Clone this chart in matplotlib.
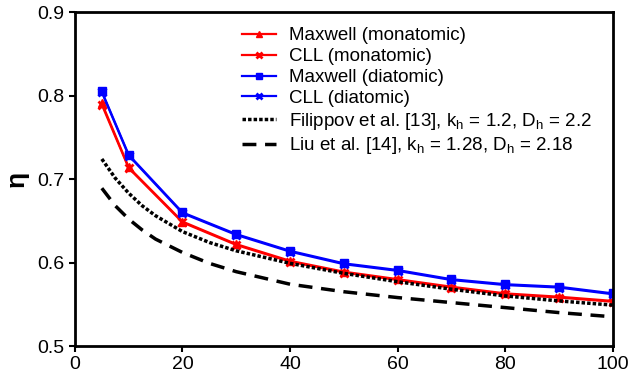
import matplotlib.pyplot as plt
import numpy as np

plt.rcParams['font.family'] = ['Liberation Sans', 'DejaVu Sans']

x = [5, 10, 20, 30, 40, 50, 60, 70, 80, 90, 100]
maxwell_mono = [0.791, 0.714, 0.649, 0.622, 0.602, 0.589, 0.580, 0.571, 0.563, 0.559, 0.554]
cll_mono = [0.789, 0.713, 0.648, 0.621, 0.601, 0.588, 0.579, 0.570, 0.562, 0.558, 0.553]
maxwell_di = [0.805, 0.729, 0.660, 0.634, 0.614, 0.599, 0.591, 0.580, 0.574, 0.571, 0.563]
cll_di = [0.804, 0.728, 0.659, 0.633, 0.613, 0.598, 0.590, 0.579, 0.573, 0.570, 0.562]

x_ref = [5, 7.5, 10, 12.5, 15, 20, 25, 30, 40, 50, 60, 70, 80, 90, 100]
filippov = [0.724, 0.701, 0.683, 0.668, 0.656, 0.637, 0.624, 0.614, 0.599, 0.587, 0.577, 0.568, 0.560, 0.554, 0.549]
liu = [0.689, 0.668, 0.652, 0.639, 0.628, 0.612, 0.599, 0.589, 0.574, 0.565, 0.558, 0.552, 0.546, 0.540, 0.535]

fig = plt.figure(figsize=(6.35, 3.83), dpi=100)
ax = fig.add_axes([0.118, 0.0966, 0.847, 0.872])

ax.plot(x, maxwell_mono, color='red', marker='^', ms=6, lw=1.6, label='Maxwell (monatomic)')
ax.plot(x, cll_mono, color='red', marker='x', ms=6, mew=2, lw=1.6, label='CLL (monatomic)')
ax.plot(x, maxwell_di, color='blue', marker='s', ms=6, lw=1.6, label='Maxwell (diatomic)')
ax.plot(x, cll_di, color='blue', marker='x', ms=6, mew=2, lw=1.6, label='CLL (diatomic)')
ax.plot(x_ref, filippov, color='black', ls=(0, (1, 0.6)), lw=2.5,
        label='Filippov et al. [13], k$_\\mathregular{h}$ = 1.2, D$_\\mathregular{h}$ = 2.2')
ax.plot(x_ref, liu, color='black', ls=(0, (4, 2.5)), lw=2.5,
        label='Liu et al. [14], k$_\\mathregular{h}$ = 1.28, D$_\\mathregular{h}$ = 2.18')

ax.set_xlim(0, 100)
ax.set_ylim(0.5, 0.9)
ax.set_xticks(np.arange(0, 101, 20))
ax.set_yticks([0.5, 0.6, 0.7, 0.8, 0.9])
ax.set_yticklabels(['0.5', '0.6', '0.7', '0.8', '0.9'])
ax.tick_params(labelsize=14, width=1.5, length=4, direction='out')
for s in ax.spines.values():
    s.set_linewidth(2)
ax.set_ylabel('η', fontsize=19, fontweight='bold', labelpad=6)

ax.legend(loc='upper left', bbox_to_anchor=(0.28, 1.005), frameon=False, fontsize=13.5,
          handlelength=1.8, handletextpad=0.7, labelspacing=0.2, markerscale=0.8)

fig.savefig('out.png', dpi=100)
